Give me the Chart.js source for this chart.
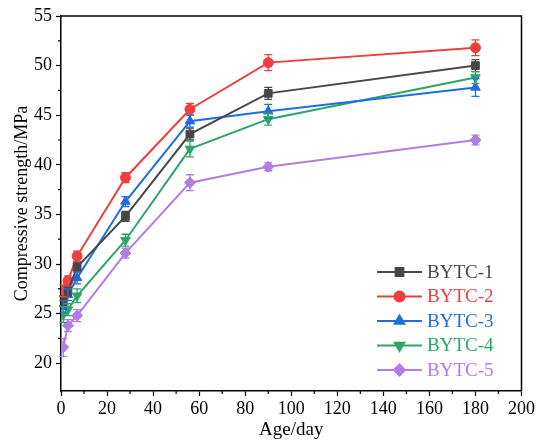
<!DOCTYPE html>
<html>
<head>
<meta charset="utf-8">
<script src="https://cdn.jsdelivr.net/npm/chart.js@4"></script>
<style>
  body { margin: 0; background: #fff; }
</style>
</head>
<body>
<canvas id="myChart" width="537" height="441"></canvas>
<script>
const ages = [1, 3, 7, 28, 56, 90, 180];

const bytc1 = [26.3, 27.3, 29.7, 34.8, 43.1, 47.2, 50.0];
const bytc2 = [27.3, 28.3, 30.8, 38.7, 45.6, 50.3, 51.8];
const bytc3 = [25.7, 26.9, 28.6, 36.3, 44.4, 45.4, 47.8];
const bytc4 = [24.9, 25.4, 26.8, 32.4, 41.6, 44.6, 48.8];
const bytc5 = [21.6, 23.8, 24.8, 31.1, 38.2, 39.8, 42.5];

const err1 = [0.5, 0.5, 0.5, 0.5, 0.6, 0.6, 0.6];
const err2 = [0.6, 0.5, 0.5, 0.5, 0.6, 0.8, 0.8];
const err3 = [0.6, 0.6, 0.6, 0.5, 0.6, 0.7, 0.9];
const err4 = [0.8, 0.6, 0.7, 0.6, 0.8, 0.6, 0.6];
const err5 = [0.9, 0.6, 0.6, 0.5, 0.8, 0.4, 0.5];

const yTicks = [20, 25, 30, 35, 40, 45, 50, 55];

const FONT = "'Liberation Serif', 'Times New Roman', serif";

function series(label, values, errors, color, style, rotation, radius) {
  return {
    label: label,
    data: ages.map((a, i) => ({ x: a, y: values[i] })),
    errors: errors,
    borderColor: color,
    backgroundColor: color,
    borderWidth: 2,
    pointStyle: style,
    pointRotation: rotation,
    pointRadius: radius,
    pointBorderWidth: 1,
    tension: 0,
  };
}

// error bars, minor ticks, box frame and the legend inside the plot
const extras = {
  id: "extras",
  afterDatasetsDraw(chart) {
    const ctx = chart.ctx;
    const y = chart.scales.y;
    const x = chart.scales.x;
    const area = chart.chartArea;
    ctx.save();

    chart.data.datasets.forEach((ds, di) => {
      const meta = chart.getDatasetMeta(di);
      ctx.strokeStyle = ds.borderColor;
      ctx.lineWidth = 1.3;
      meta.data.forEach((pt, i) => {
        const v = ds.data[i].y;
        const e = ds.errors[i];
        const top = y.getPixelForValue(v + e);
        const bot = y.getPixelForValue(v - e);
        ctx.beginPath();
        ctx.moveTo(pt.x, top);
        ctx.lineTo(pt.x, bot);
        ctx.moveTo(pt.x - 4, top);
        ctx.lineTo(pt.x + 4, top);
        ctx.moveTo(pt.x - 4, bot);
        ctx.lineTo(pt.x + 4, bot);
        ctx.stroke();
      });
    });

    // frame on top and right
    ctx.strokeStyle = "#000";
    ctx.lineWidth = 1.5;
    ctx.beginPath();
    ctx.moveTo(area.left, area.top);
    ctx.lineTo(area.right, area.top);
    ctx.lineTo(area.right, area.bottom);
    ctx.stroke();

    // minor ticks
    ctx.lineWidth = 1.2;
    ctx.beginPath();
    for (let v = 22.5; v < 55; v += 5) {
      const py = y.getPixelForValue(v);
      ctx.moveTo(area.left, py);
      ctx.lineTo(area.left - 3, py);
    }
    for (let v = 10; v < 200; v += 20) {
      const px = x.getPixelForValue(v);
      ctx.moveTo(px, area.bottom);
      ctx.lineTo(px, area.bottom + 3);
    }
    ctx.stroke();

    // legend
    const lx = 377, tx = 427;
    let ly = 272;
    chart.data.datasets.forEach((ds) => {
      ctx.strokeStyle = ds.borderColor;
      ctx.lineWidth = 2;
      ctx.beginPath();
      ctx.moveTo(lx, ly);
      ctx.lineTo(lx + 45, ly);
      ctx.stroke();
      ctx.fillStyle = ds.backgroundColor;
      Chart.helpers.drawPoint(ctx, {
        pointStyle: ds.pointStyle,
        rotation: ds.pointRotation,
        radius: ds.pointRadius,
        borderWidth: 1,
      }, lx + 22.5, ly);
      ctx.font = "19px " + FONT;
      ctx.textBaseline = "middle";
      ctx.textAlign = "left";
      ctx.fillText(ds.label, tx, ly + 1);
      ly += 24.5;
    });

    ctx.restore();
  },
};

const ctx = document.getElementById("myChart");

new Chart(ctx, {
  type: "line",
  data: {
    datasets: [
      series("BYTC-1", bytc1, err1, "rgb(72, 72, 72)", "rect", 0, 5.5),
      series("BYTC-2", bytc2, err2, "rgb(240, 62, 62)", "circle", 0, 5),
      series("BYTC-3", bytc3, err3, "rgb(30, 110, 222)", "triangle", 0, 5.5),
      series("BYTC-4", bytc4, err4, "rgb(44, 166, 104)", "triangle", 180, 5.5),
      series("BYTC-5", bytc5, err5, "rgb(178, 124, 230)", "rectRot", 0, 5.5),
    ],
  },
  options: {
    responsive: false,
    devicePixelRatio: 1,
    animation: false,
    layout: {
      padding: { top: 16, right: 15, left: 0, bottom: 0 },
    },
    plugins: {
      legend: { display: false },
      tooltip: { enabled: false },
    },
    scales: {
      x: {
        type: "linear",
        min: 0,
        max: 200,
        ticks: {
          stepSize: 20,
          color: "#000",
          font: { family: FONT, size: 18 },
          padding: 2,
          maxRotation: 0,
        },
        grid: {
          drawOnChartArea: false,
          color: "#000",
          tickLength: 5,
          tickWidth: 1.2,
        },
        border: { color: "#000", width: 1.5 },
        title: {
          display: true,
          text: "Age/day",
          color: "#000",
          font: { family: FONT, size: 19 },
          padding: { top: 0, bottom: 0 },
        },
        afterFit(scale) {
          scale.height = 50;
        },
      },
      y: {
        min: 17.2,
        max: 55,
        afterBuildTicks(scale) {
          scale.ticks = yTicks.map((v) => ({ value: v }));
        },
        ticks: {
          color: "#000",
          font: { family: FONT, size: 18 },
          padding: 4,
        },
        grid: {
          drawOnChartArea: false,
          color: "#000",
          tickLength: 5,
          tickWidth: 1.2,
        },
        border: { color: "#000", width: 1.5 },
        title: {
          display: true,
          text: "Compressive strength/MPa",
          color: "#000",
          font: { family: FONT, size: 18 },
          padding: { top: 11, bottom: 0 },
        },
        afterFit(scale) {
          scale.width = 61;
        },
      },
    },
  },
  plugins: [extras],
});
</script>
</body>
</html>
